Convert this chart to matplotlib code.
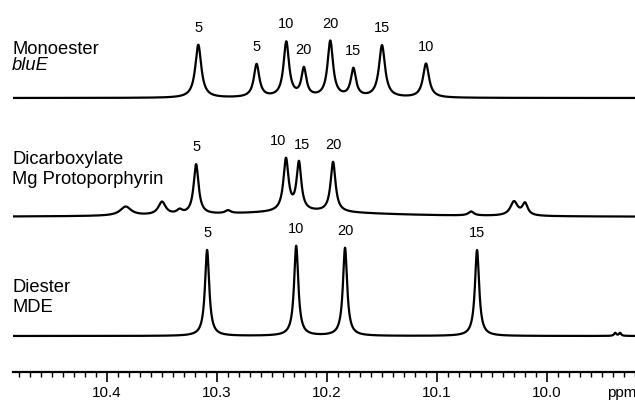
import numpy as np
import matplotlib
matplotlib.use("Agg")
import matplotlib.pyplot as plt
from matplotlib.ticker import MultipleLocator, FormatStrFormatter

plt.rcParams['font.family'] = ['Liberation Sans', 'DejaVu Sans']

# ---------------- data ----------------
# Trace names
trace_names = ["Monoester", "Dicarboxylate", "Diester"]
trace_subnames = ["bluE", "Mg Protoporphyrin", "MDE"]

# Monoester bluE: peak positions (ppm), heights (arb.), half widths (ppm), labels
mono_ppm = [10.317, 10.264, 10.237, 10.221, 10.197, 10.176, 10.150, 10.110]
mono_height = [53, 33, 55, 28, 56, 28, 52, 34]
mono_hw = [0.0033, 0.003, 0.003, 0.0027, 0.003, 0.0028, 0.0033, 0.0033]
mono_labels = ["5", "5", "10", "20", "20", "15", "15", "10"]

# Dicarboxylate Mg Protoporphyrin
dic_ppm = [10.383, 10.350, 10.334, 10.319, 10.290, 10.2373, 10.2255, 10.1945,
           10.069, 10.030, 10.020, 10.22]
dic_height = [9, 13, 4, 50, 3, 52, 48, 50, 4, 14, 12, 5]
dic_hw = [0.006, 0.004, 0.003, 0.0027, 0.003, 0.0028, 0.0026, 0.0027,
          0.003, 0.004, 0.003, 0.09]
dic_labels = ["", "", "", "5", "", "10", "15", "20", "", "", "", ""]

# Diester MDE
di_ppm = [10.309, 10.228, 10.1836, 10.0636, 9.938, 9.9336]
di_height = [86, 90, 88, 86, 3, 3]
di_hw = [0.0023, 0.0023, 0.0023, 0.0023, 0.0012, 0.0012]
di_labels = ["5", "10", "20", "15", "", ""]

# axis
major_step = 0.1
minor_step = 0.01

# ---------------- layout ----------------
W, H = 635, 401
X_104, PX_PER_PPM = 107, 1100.0
def px2ppm(x):
    return 10.4 - (x - X_104) / PX_PER_PPM

AXIS_Y = 372            # pixel row of the ppm axis
ax_left = 13
baselines = [AXIS_Y - 98, AXIS_Y - 217, AXIS_Y - 336]   # data-y of each baseline
label_nudge = {("dic", "10"): (-8, 0), ("dic", "15"): (3, -1)}

fig = plt.figure(figsize=(W / 100, H / 100), dpi=100)
ax = fig.add_axes([ax_left / W, (H - AXIS_Y) / H, (W - ax_left) / W, AXIS_Y / H])
ax.set_xlim(px2ppm(ax_left), px2ppm(W))
ax.set_ylim(0, AXIS_Y)

x = np.linspace(px2ppm(ax_left), px2ppm(W), 6000)

def spectrum(ppm, height, hw):
    y = np.zeros_like(x)
    for p, h, w in zip(ppm, height, hw):
        y += h * w**2 / ((x - p)**2 + w**2)
    return y

traces = [("mono", mono_ppm, mono_height, mono_hw, mono_labels),
          ("dic", dic_ppm, dic_height, dic_hw, dic_labels),
          ("di", di_ppm, di_height, di_hw, di_labels)]

for (key, ppm, hgt, hw, labs), base in zip(traces, baselines):
    y = spectrum(ppm, hgt, hw) + base
    ax.plot(x, y, color="black", lw=1.6, clip_on=False, solid_capstyle="butt")
    for p, lab in zip(ppm, labs):
        if not lab:
            continue
        i = np.argmin(np.abs(x - p))
        top = y[max(i - 20, 0):i + 20].max()
        dx, dy = label_nudge.get((key, lab), (0, 0))
        ax.annotate(lab, (p, top), xytext=(dx * 0.72, 7 * 0.72 + dy * 0.72 + 2),
                    textcoords="offset points", ha="center", va="bottom",
                    fontsize=10.5, annotation_clip=False)

# trace names
name_rows = [(49, 66), (159, 180), (287, 308)]
for (n, s), (r1, r2), italic in zip(zip(trace_names, trace_subnames), name_rows,
                                     [True, False, False]):
    fig.text(12 / W, 1 - r1 / H, n, fontsize=13.2, ha="left", va="center")
    fig.text(12 / W, 1 - r2 / H, s, fontsize=13.2, ha="left", va="center",
             style="italic" if italic else "normal")

# ppm axis
for s in ["top", "left", "right"]:
    ax.spines[s].set_visible(False)
ax.spines["bottom"].set_linewidth(1.6)
ax.xaxis.set_major_locator(MultipleLocator(major_step))
ax.xaxis.set_minor_locator(MultipleLocator(minor_step))
ax.xaxis.set_major_formatter(FormatStrFormatter("%.1f"))
ax.tick_params(axis="x", which="major", direction="out", length=7, width=1.2,
               labelsize=11, pad=3)
ax.tick_params(axis="x", which="minor", direction="out", length=3.5, width=1.0)
ax.set_yticks([])
ax.patch.set_alpha(0)
fig.text(607 / W, 1 - 393 / H, "ppm", fontsize=11, ha="left", va="center")

fig.savefig("out.png", dpi=100)
